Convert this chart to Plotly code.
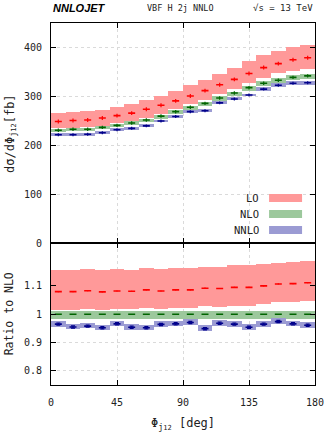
import plotly.graph_objects as go
from plotly.subplots import make_subplots

# ---- data ----
phi_centers = [5, 15, 25, 35, 45, 55, 65, 75, 85, 95, 105, 115, 125, 135, 145, 155, 165, 175]
bin_width = 10
x_ticks = [0, 45, 90, 135, 180]
y_ticks_top = [0, 100, 200, 300, 400]
y_ticks_ratio = [0.8, 0.9, 1.0, 1.1]
y_ticktext_ratio = ["0.8", "0.9", "1", "1.1"]

LO_c = [249, 251, 252, 256, 261, 266, 274, 282, 291, 301, 312, 324, 335, 347, 359, 367, 375, 379]
LO_lo = [235, 236, 237, 240, 245, 250, 257, 264, 274, 284, 293, 305, 316, 327, 338, 347, 353, 357]
LO_hi = [267, 269, 270, 273, 279, 284, 293, 301, 312, 323, 333, 346, 359, 372, 384, 393, 401, 405]
LO_err = [4, 4, 4, 4, 4, 4, 4, 4, 4, 4, 4, 4, 4, 4, 4, 4, 4, 4]

NLO_c = [231, 233, 233, 237, 241, 246, 252, 260, 269, 278, 286, 297, 307, 318, 327, 333, 339, 342]
NLO_lo = [227, 229, 229, 233, 237, 241, 247, 255, 264, 273, 281, 291, 301, 312, 321, 327, 333, 336]
NLO_hi = [234, 236, 236, 240, 244, 249, 255, 263, 272, 281, 289, 300, 310, 321, 331, 337, 343, 346]
NLO_err = [3.5, 3.5, 3.5, 3.5, 3.5, 3.5, 3.5, 3.5, 3.5, 3.5, 3.5, 3.5, 3.5, 3.5, 3.5, 3.5, 3.5, 3.5]

NNLO_c = [222, 222, 223, 226, 232, 235, 240, 250, 259, 269, 271, 287, 295, 303, 315, 323, 327, 328]
NNLO_lo = [219, 219, 220, 223, 229, 232, 237, 247, 256, 266, 268, 284, 292, 300, 311, 319, 323, 324]
NNLO_hi = [225, 225, 226, 229, 235, 238, 243, 253, 262, 272, 274, 290, 298, 306, 319, 327, 331, 332]
NNLO_err = [3, 3, 3, 3, 3, 3, 3, 3, 3, 3, 3, 3, 3, 3, 3, 3, 3, 3]

R_LO_c = [1.080, 1.080, 1.083, 1.079, 1.082, 1.081, 1.086, 1.082, 1.086, 1.086, 1.092, 1.091, 1.095, 1.095, 1.100, 1.107, 1.108, 1.111]
R_LO_lo = [1.015, 1.015, 1.018, 1.013, 1.017, 1.016, 1.020, 1.017, 1.020, 1.020, 1.026, 1.025, 1.029, 1.029, 1.034, 1.040, 1.041, 1.044]
R_LO_hi = [1.155, 1.155, 1.159, 1.153, 1.158, 1.156, 1.161, 1.159, 1.161, 1.161, 1.166, 1.165, 1.171, 1.171, 1.175, 1.181, 1.184, 1.186]
R_LO_err = [0.002, 0.002, 0.002, 0.002, 0.002, 0.002, 0.002, 0.002, 0.002, 0.002, 0.002, 0.002, 0.002, 0.002, 0.002, 0.002, 0.002, 0.002]

R_NLO_c = [1.0, 1.0, 1.0, 1.0, 1.0, 1.0, 1.0, 1.0, 1.0, 1.0, 1.0, 1.0, 1.0, 1.0, 1.0, 1.0, 1.0, 1.0]
R_NLO_lo = [0.981, 0.981, 0.981, 0.981, 0.981, 0.981, 0.981, 0.981, 0.981, 0.981, 0.981, 0.981, 0.981, 0.981, 0.981, 0.981, 0.981, 0.981]
R_NLO_hi = [1.011, 1.011, 1.011, 1.011, 1.011, 1.011, 1.011, 1.011, 1.011, 1.011, 1.011, 1.011, 1.011, 1.011, 1.011, 1.011, 1.011, 1.011]
R_NLO_err = [0.001, 0.001, 0.001, 0.001, 0.001, 0.001, 0.001, 0.001, 0.001, 0.001, 0.001, 0.001, 0.001, 0.001, 0.001, 0.001, 0.001, 0.001]

R_NNLO_c = [0.965, 0.955, 0.958, 0.952, 0.966, 0.954, 0.952, 0.964, 0.966, 0.971, 0.949, 0.968, 0.965, 0.954, 0.965, 0.974, 0.966, 0.961]
R_NNLO_lo = [0.955, 0.945, 0.948, 0.942, 0.956, 0.944, 0.942, 0.954, 0.956, 0.961, 0.939, 0.958, 0.955, 0.944, 0.955, 0.964, 0.956, 0.951]
R_NNLO_hi = [0.975, 0.965, 0.968, 0.962, 0.976, 0.964, 0.962, 0.974, 0.976, 0.981, 0.959, 0.978, 0.975, 0.964, 0.975, 0.984, 0.976, 0.971]
R_NNLO_err = [0.004, 0.004, 0.004, 0.004, 0.004, 0.004, 0.004, 0.004, 0.004, 0.004, 0.004, 0.004, 0.004, 0.004, 0.004, 0.004, 0.004, 0.004]

band_colors = {"LO": "#ff9999", "NLO": "#9cc89c", "NNLO": "#9b9bd3"}
mark_colors = {"LO": "#ff0000", "NLO": "#006400", "NNLO": "#00008b"}

FONT = "DejaVu Sans Mono"

fig = make_subplots(rows=2, cols=1, shared_xaxes=True, vertical_spacing=0,
                    row_heights=[0.609, 0.391])


def add_order(name, c, lo, hi, err, row, cap):
    fig.add_trace(go.Bar(
        x=phi_centers, y=[h - l for h, l in zip(hi, lo)], base=lo, width=bin_width,
        marker=dict(color=band_colors[name], line=dict(width=0)),
        showlegend=False, hoverinfo="skip"), row=row, col=1)
    fig.add_trace(go.Scatter(
        x=phi_centers, y=c, mode="markers",
        marker=dict(symbol="line-ew", size=5, line=dict(width=1.6, color=mark_colors[name])),
        error_y=dict(type="data", array=err, visible=True, color=mark_colors[name],
                     thickness=1.2, width=cap),
        showlegend=False, hoverinfo="skip"), row=row, col=1)


add_order("LO", LO_c, LO_lo, LO_hi, LO_err, 1, 0)
add_order("NLO", NLO_c, NLO_lo, NLO_hi, NLO_err, 1, 0)
add_order("NNLO", NNLO_c, NNLO_lo, NNLO_hi, NNLO_err, 1, 0)
add_order("LO", R_LO_c, R_LO_lo, R_LO_hi, R_LO_err, 2, 0)
add_order("NLO", R_NLO_c, R_NLO_lo, R_NLO_hi, R_NLO_err, 2, 0)
add_order("NNLO", R_NNLO_c, R_NNLO_lo, R_NNLO_hi, R_NNLO_err, 2, 2)

axis_common = dict(showline=True, linecolor="black", linewidth=1, mirror="ticks",
                   ticks="inside", ticklen=5, tickwidth=1, tickcolor="black",
                   showgrid=True, griddash="dot", gridcolor="#dadada", gridwidth=1,
                   zeroline=False, automargin=False,
                   tickfont=dict(family=FONT, size=10, color="#222"))

fig.update_xaxes(range=[0, 180], tickvals=x_ticks, **axis_common)
fig.update_xaxes(showticklabels=False, row=1, col=1)
fig.update_xaxes(ticklabelstandoff=8, row=2, col=1)
fig.update_yaxes(range=[0, 450], tickvals=y_ticks_top, ticklabelstandoff=6, row=1, col=1, **axis_common)
fig.update_yaxes(range=[0.75, 1.25], tickvals=y_ticks_ratio, ticktext=y_ticktext_ratio,
                 ticklabelstandoff=6, row=2, col=1, **axis_common)

annotations = [
    dict(text="<b><i>NNLOJET</i></b>", x=0.0, xanchor="left", y=1.041, yanchor="middle",
         font=dict(family="Liberation Sans", size=11, color="black")),
    dict(text="VBF H 2j NNLO", x=0.49, xanchor="center", y=1.041, yanchor="middle",
         font=dict(family=FONT, size=8.5, color="#222")),
    dict(text="√s = 13 TeV", x=1.0, xanchor="right", y=1.041, yanchor="middle",
         font=dict(family=FONT, size=9, color="#222")),
    dict(text="dσ/dΦ<sub>j<span style='font-size:7px'>12</span></sub>[fb]", x=-0.152, xanchor="center",
         y=0.696, yanchor="middle", textangle=-90,
         font=dict(family=FONT, size=12, color="#222")),
    dict(text="Ratio to NLO", x=-0.158, xanchor="center", y=0.196, yanchor="middle", textangle=-90,
         font=dict(family=FONT, size=11.5, color="#222")),
    dict(text="Φ<sub>j<span style='font-size:7px'>12</span></sub> [deg]", x=0.5, xanchor="center",
         y=-0.108, yanchor="middle", font=dict(family=FONT, size=12, color="#222")),
]

shapes = []
legend_rows = [("LO", 0.5166), ("NLO", 0.4724), ("NNLO", 0.4282)]
for name, yy in legend_rows:
    annotations.append(dict(text=name, x=0.797, xanchor="right", y=yy, yanchor="middle",
                            font=dict(family=FONT, size=10.5, color="#222")))
    shapes.append(dict(type="rect", xref="paper", yref="paper", x0=0.826, x1=0.951,
                       y0=yy - 0.011, y1=yy + 0.011, fillcolor=band_colors[name], line=dict(width=0)))

for a in annotations:
    a.update(xref="paper", yref="paper", showarrow=False)

fig.update_layout(width=332, height=443, margin=dict(l=51, r=17, t=23, b=58),
                  plot_bgcolor="white", paper_bgcolor="white", barmode="overlay",
                  bargap=0, showlegend=False, annotations=annotations, shapes=shapes,
                  font=dict(family=FONT, size=10, color="#222"))

# remove the page's default 8px body margin so the figure fills the window exactly
fig.write_html("out.html", config={"displayModeBar": False},
               post_script="document.body.style.margin='0';document.body.style.overflow='hidden';")
